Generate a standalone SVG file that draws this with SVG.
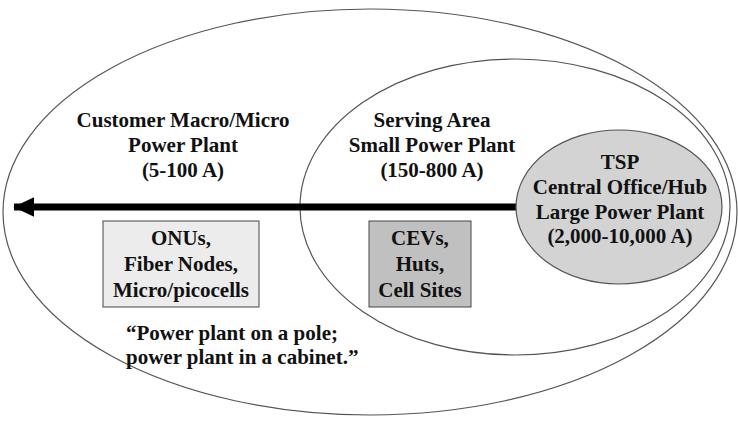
<svg xmlns="http://www.w3.org/2000/svg" width="738" height="424" viewBox="0 0 738 424">
<style>
.ring{fill:none;stroke:#555;stroke-width:1.2}
.t{font-family:"Liberation Serif","Times New Roman",serif;font-weight:bold;font-size:21px;fill:#111;text-anchor:middle}
.box{stroke:#444;stroke-width:1}
</style>
<defs>
<marker id="ah" markerWidth="3" markerHeight="2.8" refX="2.9" refY="1.4" orient="auto" markerUnits="strokeWidth">
<path d="M0,0 L3,1.4 L0,2.8 Z" fill="#000"/>
</marker>
</defs>
<rect width="738" height="424" fill="#fff"/>
<g id="outer">
<ellipse class="ring" cx="370" cy="212" rx="367" ry="203"/>
<text class="t" x="183" y="127">Customer Macro/Micro</text>
<text class="t" x="183" y="152">Power Plant</text>
<text class="t" x="183" y="177">(5-100 A)</text>
</g>
<g id="serving">
<ellipse class="ring" cx="515" cy="207" rx="215" ry="148"/>
<text class="t" x="432" y="127">Serving Area</text>
<text class="t" x="432" y="152">Small Power Plant</text>
<text class="t" x="432" y="177">(150-800 A)</text>
</g>
<g id="connectors">
<line x1="518" y1="207" x2="14" y2="207" stroke="#000" stroke-width="7" marker-end="url(#ah)"/>
</g>
<g id="tsp">
<ellipse cx="619" cy="207" rx="103" ry="77" fill="#d3d3d3" stroke="#555" stroke-width="1.2"/>
<text class="t" x="620" y="169">TSP</text>
<text class="t" x="620" y="194">Central Office/Hub</text>
<text class="t" x="620" y="219">Large Power Plant</text>
<text class="t" x="620" y="243">(2,000-10,000 A)</text>
</g>
<g id="onus">
<rect class="box" x="103" y="221" width="156" height="86" fill="#ececec"/>
<text class="t" x="181" y="245">ONUs,</text>
<text class="t" x="181" y="271">Fiber Nodes,</text>
<text class="t" x="181" y="297">Micro/picocells</text>
</g>
<g id="cevs">
<rect class="box" x="369" y="221" width="102" height="86" fill="#c0c0c0"/>
<text class="t" x="420" y="245">CEVs,</text>
<text class="t" x="420" y="271">Huts,</text>
<text class="t" x="420" y="297">Cell Sites</text>
</g>
<g id="quote">
<text class="t" x="126" y="340" style="text-anchor:start">“Power plant on a pole;</text>
<text class="t" x="126" y="364" style="text-anchor:start">power plant in a cabinet.”</text>
</g>
</svg>
